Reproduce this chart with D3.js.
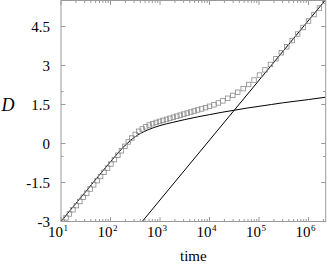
<!DOCTYPE html>
<html>
<meta charset='utf-8'>
<title>D vs time</title>
<style>
  body { margin: 0; background: #fff; }
  text { font-family: 'Liberation Serif', 'DejaVu Serif', serif; fill: #000; }
  .frame { fill: none; stroke: #9a9a9a; stroke-width: 1; }
  .tick { stroke: #9a9a9a; stroke-width: 1; }
</style>
<script src='https://d3js.org/d3.v7.min.js'></script>
<body>
<script>
  // squares (measured points)
  var sqTime = [10.7, 12.6, 14.8, 17.4, 20.4, 24.0, 28.2, 33.1, 38.9, 45.7, 53.7, 63.1, 74.1, 87.1,
    102, 120, 141, 166, 195, 229, 269, 316, 372, 437, 513, 603, 708, 832, 977,
    1148, 1349, 1585, 1862, 2188, 2570, 3020, 3548, 4169, 4898, 5754, 6918, 8318,
    10000, 12300, 15100, 18600, 23400, 29500, 37200, 47900, 61700, 79400,
    102000, 132000, 170000, 219000, 282000, 363000, 468000, 603000, 776000,
    1000000, 1290000, 1660000, 2140000];
  var sqD = [-3.00, -2.86, -2.71, -2.55, -2.39, -2.23, -2.07, -1.91, -1.75, -1.59, -1.43, -1.27, -1.11, -0.95,
    -0.79, -0.62, -0.45, -0.28, -0.11, 0.06, 0.21, 0.35, 0.47, 0.56, 0.64, 0.71, 0.76, 0.81, 0.85,
    0.89, 0.93, 0.97, 1.01, 1.05, 1.09, 1.13, 1.17, 1.21, 1.25, 1.29, 1.33, 1.38,
    1.43, 1.49, 1.56, 1.64, 1.74, 1.85, 1.97, 2.11, 2.27, 2.44,
    2.63, 2.83, 3.04, 3.26, 3.49, 3.72, 3.96, 4.21, 4.46,
    4.71, 4.96, 5.21, 5.46];

  // smooth curve
  var curveTime = [10, 17.8, 31.6, 56.2, 100, 141, 200, 251, 316, 398, 562, 1000, 1778, 3162, 5623,
    10000, 17783, 31623, 56234, 100000, 177828, 316228, 562341, 1000000, 2200000];
  var curveD = [-3.0, -2.42, -1.85, -1.27, -0.70, -0.37, -0.06, 0.11, 0.26, 0.38, 0.52, 0.69, 0.81, 0.92, 1.02,
    1.11, 1.20, 1.28, 1.36, 1.43, 1.50, 1.57, 1.63, 1.69, 1.78];

  // straight line
  var lineTime = [437, 2150000];
  var lineD = [-3, 5.5];

  var xTickExp = [1, 2, 3, 4, 5, 6];
  var yTicks = [-3, -1.5, 0, 1.5, 3, 4.5];
  var yTickLabels = ['-3', '-1.5', '0', '1.5', '3', '4.5'];
  var yMinor = [-0.5, 2];

  var W = 327, H = 266;
  var x0 = 61, x1 = 325.7, y0 = 221.5, y1 = 0.5;

  var svg = d3.select('body').append('svg')
    .attr('width', W).attr('height', H);

  var x = d3.scaleLog().domain([10, Math.pow(10, 6.347)]).range([x0, x1]);
  var y = d3.scaleLinear().domain([-3, 5.5]).range([y0, y1]);

  svg.append('clipPath').attr('id', 'clip')
    .append('rect').attr('x', x0).attr('y', y1).attr('width', x1 - x0).attr('height', y0 - y1);

  // ticks (inward, mirrored)
  var minorX = [];
  for (var e = 1; e <= 6; e++) {
    for (var m = 2; m <= 9; m++) {
      var v = m * Math.pow(10, e);
      if (x(v) < x1) minorX.push(v);
    }
  }
  var g = svg.append('g');
  minorX.forEach(function(v) {
    g.append('line').attr('class', 'tick').attr('x1', x(v)).attr('x2', x(v)).attr('y1', y0).attr('y2', y0 - 2.5);
    g.append('line').attr('class', 'tick').attr('x1', x(v)).attr('x2', x(v)).attr('y1', y1).attr('y2', y1 + 2.5);
  });
  xTickExp.forEach(function(k) {
    var px = x(Math.pow(10, k));
    g.append('line').attr('class', 'tick').attr('x1', px).attr('x2', px).attr('y1', y0).attr('y2', y0 - 4.5);
    g.append('line').attr('class', 'tick').attr('x1', px).attr('x2', px).attr('y1', y1).attr('y2', y1 + 4.5);
  });
  yTicks.forEach(function(v) {
    g.append('line').attr('class', 'tick').attr('x1', x0).attr('x2', x0 + 4.5).attr('y1', y(v)).attr('y2', y(v));
    g.append('line').attr('class', 'tick').attr('x1', x1).attr('x2', x1 - 4.5).attr('y1', y(v)).attr('y2', y(v));
  });
  yMinor.forEach(function(v) {
    g.append('line').attr('class', 'tick').attr('x1', x0).attr('x2', x0 + 2.5).attr('y1', y(v)).attr('y2', y(v));
    g.append('line').attr('class', 'tick').attr('x1', x1).attr('x2', x1 - 2.5).attr('y1', y(v)).attr('y2', y(v));
  });

  // tick labels
  yTicks.forEach(function(v, i) {
    svg.append('text')
      .attr('x', 50).attr('y', y(v)).attr('dy', '0.35em')
      .style('text-anchor', 'end').style('font-size', '15px')
      .text(yTickLabels[i]);
  });
  xTickExp.forEach(function(k) {
    svg.append('text')
      .attr('x', x(Math.pow(10, k)) + 2).attr('y', 237)
      .style('text-anchor', 'end').style('font-size', '15px')
      .text('10');
    svg.append('text')
      .attr('x', x(Math.pow(10, k)) + 2.5).attr('y', 231)
      .style('font-size', '9px')
      .text(k);
  });

  // data
  var plot = svg.append('g').attr('clip-path', 'url(#clip)');
  var lineGen = d3.line()
    .x(function(d) { return x(d[0]); })
    .y(function(d) { return y(d[1]); });

  plot.append('path')
    .datum(curveTime.map(function(t, i) { return [t, curveD[i]]; }))
    .attr('d', lineGen.curve(d3.curveMonotoneX))
    .style('fill', 'none').style('stroke', '#000').style('stroke-width', 1);

  plot.append('path')
    .datum(lineTime.map(function(t, i) { return [t, lineD[i]]; }))
    .attr('d', d3.line().x(function(d) { return x(d[0]); }).y(function(d) { return y(d[1]); }))
    .style('fill', 'none').style('stroke', '#000').style('stroke-width', 1);

  plot.selectAll('rect.sq')
    .data(sqTime.map(function(t, i) { return [t, sqD[i]]; }))
    .enter().append('rect')
    .attr('class', 'sq')
    .attr('x', function(d) { return x(d[0]) - 2.25; })
    .attr('y', function(d) { return y(d[1]) - 2.25; })
    .attr('width', 4.5).attr('height', 4.5)
    .style('fill', 'none').style('stroke', '#8a8a8a').style('stroke-width', 0.8);

  // frame
  svg.append('rect').attr('class', 'frame')
    .attr('x', x0).attr('y', y1).attr('width', x1 - x0).attr('height', y0 - y1);

  // axis titles
  svg.append('text')
    .attr('x', 1.5).attr('y', 110.5)
    .style('font-size', '18px').style('font-style', 'italic')
    .text('D');
  svg.append('text')
    .attr('x', (x0 + x1) / 2).attr('y', 261)
    .style('text-anchor', 'middle').style('font-size', '15px')
    .text('time');
</script>
</body>
</html>
